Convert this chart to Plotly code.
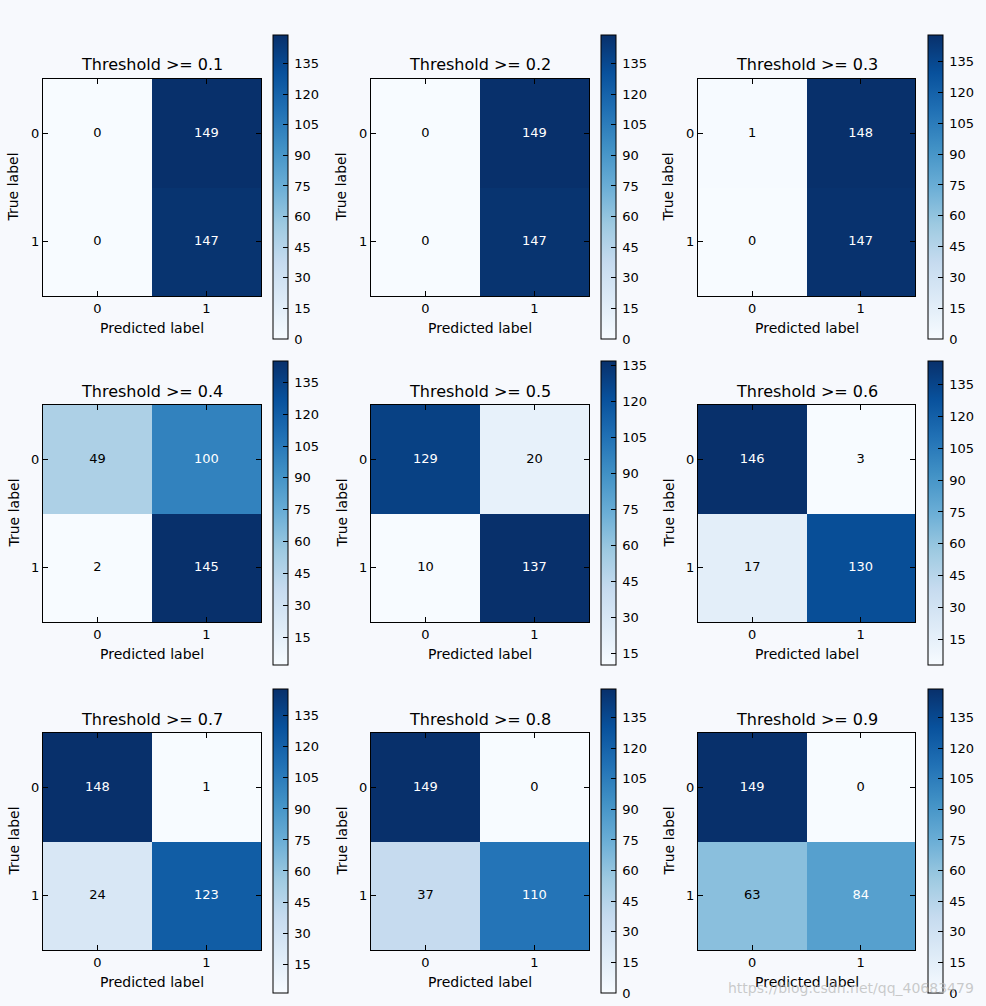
import plotly.graph_objects as go
import plotly.express as px

# ---- data ----
thresholds = [0.1, 0.2, 0.3, 0.4, 0.5, 0.6, 0.7, 0.8, 0.9]
tn = [0, 0, 1, 49, 129, 146, 148, 149, 149]
fp = [149, 149, 148, 100, 20, 3, 1, 0, 0]
fn = [0, 0, 0, 2, 10, 17, 24, 37, 63]
tp = [147, 147, 147, 145, 137, 130, 123, 110, 84]
class_labels = ["0", "1"]

# ---- layout constants (pixels) ----
W, H = 986, 1006
col_left = [43, 371, 698]
col_w = [218, 218, 217]
row_top = [79, 405, 733]
heat_h = 217
cbar_left = [273, 601, 928]
cbar_top = [35, 361, 689]
cbar_len = 304
FONT = "DejaVu Sans"
BG = "#f7f9fd"

blues = px.colors.sequential.Blues
cs = [[i / (len(blues) - 1), c] for i, c in enumerate(blues)]

fig = go.Figure()
annotations = []
layout_axes = {}

for k in range(9):
    r, c = divmod(k, 3)
    z = [[tn[k], fp[k]], [fn[k], tp[k]]]
    flat = [tn[k], fp[k], fn[k], tp[k]]
    zmin, zmax = min(flat), max(flat)
    suffix = "" if k == 0 else str(k + 1)
    xa, ya = "x" + suffix, "y" + suffix

    fig.add_trace(go.Heatmap(
        z=z, x=[0, 1], y=[0, 1], colorscale=cs, zmin=zmin, zmax=zmax,
        xaxis=xa, yaxis=ya, hoverinfo="skip",
        colorbar=dict(
            x=cbar_left[c] / W, xanchor="left",
            y=1 - cbar_top[r] / H, yanchor="top",
            len=cbar_len, lenmode="pixels",
            thickness=15, thicknessmode="pixels",
            outlinewidth=1, outlinecolor="black",
            tick0=0, dtick=15, ticks="inside", ticklen=5, tickcolor="black",
            tickprefix="\u2009",
            tickfont=dict(size=13, family=FONT, color="black"),
            xpad=0, ypad=0, bgcolor="rgba(0,0,0,0)", borderwidth=0,
        ),
    ))

    thresh = zmax / 2
    xs = [0, 1, 0, 1]
    ys = [0, 0, 1, 1]
    fig.add_trace(go.Scatter(
        x=xs, y=ys, text=[str(v) for v in flat], mode="text",
        textfont=dict(size=13, family=FONT,
                      color=["white" if v > thresh else "black" for v in flat]),
        xaxis=xa, yaxis=ya, showlegend=False, hoverinfo="skip",
    ))

    x0 = col_left[c]
    x1 = col_left[c] + col_w[c]
    y0 = row_top[r]
    y1 = row_top[r] + heat_h
    common = dict(
        tickvals=[0, 1], ticktext=class_labels, ticks="inside", ticklen=5,
        tickcolor="black", showline=True, linecolor="black", linewidth=1,
        mirror="ticks", showgrid=False, zeroline=False,
        tickfont=dict(size=13, family=FONT, color="black"), fixedrange=True,
    )
    layout_axes["xaxis" + suffix] = dict(
        domain=[x0 / W, x1 / W], range=[-0.5, 1.5], anchor=ya, **common)
    layout_axes["yaxis" + suffix] = dict(
        domain=[1 - y1 / H, 1 - y0 / H], range=[1.5, -0.5], anchor=xa, **common)

    cx = (x0 + x1) / 2
    annotations.append(dict(
        text=f"Threshold >= {thresholds[k]}", x=cx / W, y=1 - (y0 - 14) / H,
        xref="paper", yref="paper", showarrow=False, xanchor="center", yanchor="middle",
        font=dict(size=16, family=FONT, color="black")))
    annotations.append(dict(
        text="Predicted label", x=cx / W, y=1 - (y1 + 32) / H,
        xref="paper", yref="paper", showarrow=False, xanchor="center", yanchor="middle",
        font=dict(size=14, family=FONT, color="black")))
    annotations.append(dict(
        text="True label", x=(x0 - 30) / W, y=1 - ((y0 + y1) / 2) / H,
        xref="paper", yref="paper", showarrow=False, xanchor="center", yanchor="middle",
        textangle=-90, font=dict(size=14, family=FONT, color="black")))

annotations.append(dict(
    text="https://blog.csdn.net/qq_40683479", x=976 / W, y=1 - 988 / H,
    xref="paper", yref="paper", showarrow=False, xanchor="right", yanchor="middle",
    font=dict(size=14, family=FONT, color="rgba(185,185,185,0.75)")))

fig.update_layout(
    width=W, height=H, margin=dict(l=0, r=0, t=0, b=0),
    paper_bgcolor=BG, plot_bgcolor=BG, showlegend=False,
    annotations=annotations, **layout_axes,
)

fig.write_html(
    "out.html",
    config={"displayModeBar": False},
    post_script="document.body.style.margin='0';document.body.style.overflow='hidden';",
)
